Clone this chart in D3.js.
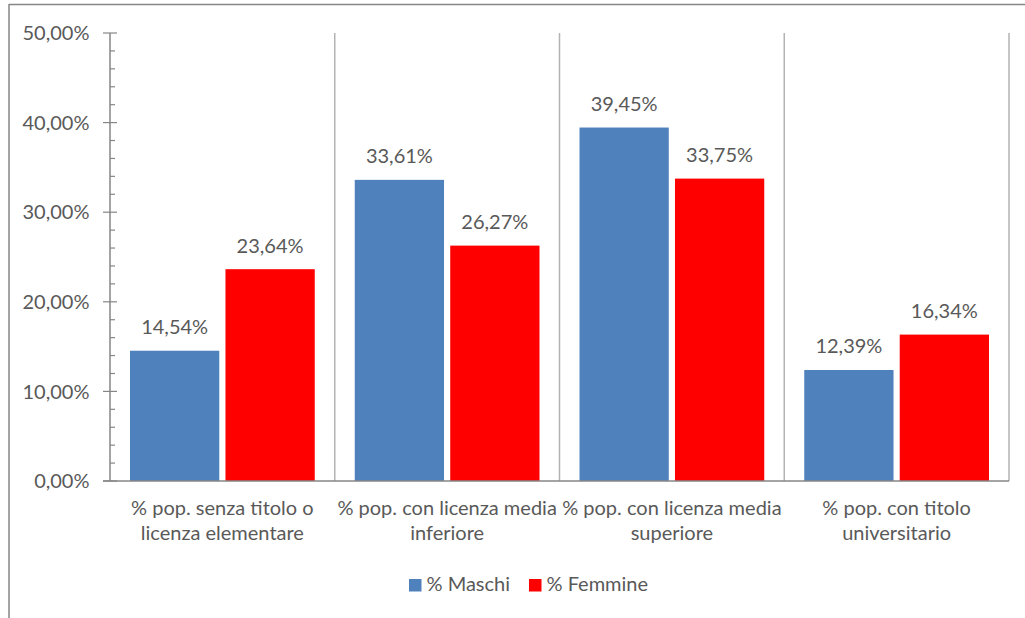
<!DOCTYPE html>
<html>
<head>
<meta charset="utf-8">
<script src="https://cdn.jsdelivr.net/npm/d3@7"></script>
<style>
  html, body { margin: 0; padding: 0; background: #fff; }
  svg { display: block; }
  text { font-family: Lato, "Open Sans", sans-serif; fill: #595959; }
</style>
</head>
<body>
<svg id="chart" width="1025" height="618"></svg>
<script>
// Education level by gender
const categories = [
  ["% pop. senza titolo o", "licenza elementare"],
  ["% pop. con licenza media", "inferiore"],
  ["% pop. con licenza media", "superiore"],
  ["% pop. con titolo", "universitario"]
];
const seriesNames = ["% Maschi", "% Femmine"];
const maschi = [14.54, 33.61, 39.45, 12.39];
const femmine = [23.64, 26.27, 33.75, 16.34];
const yTicks = [0, 10, 20, 30, 40, 50];
const colors = ["#4F81BD", "#FF0000"];

const svg = d3.select("#chart");
const plotL = 110, plotR = 1009, plotT = 33, plotB = 481;
const fs = 20;

const fmt = v => v.toFixed(2).replace(".", ",") + "%";

// outer frame (top and left edges visible)
svg.append("line").attr("x1", 9).attr("x2", 1025).attr("y1", 4.5).attr("y2", 4.5)
  .attr("stroke", "#868686").attr("stroke-width", 1.5);
svg.append("line").attr("x1", 9).attr("x2", 9).attr("y1", 4).attr("y2", 618)
  .attr("stroke", "#868686").attr("stroke-width", 1.5);

const x0 = d3.scaleBand().domain(d3.range(categories.length)).range([plotL, plotR]).paddingInner(0).paddingOuter(0);
const x1 = d3.scaleBand().domain([0, 1]).range([20, x0.bandwidth() - 20]).paddingInner(0.065);
const y = d3.scaleLinear().domain([0, 50]).range([plotB, plotT]);

// vertical category separators
const seps = d3.range(1, categories.length + 1).map(i => plotL + i * x0.bandwidth());
svg.append("g").selectAll("line").data(seps).join("line")
  .attr("x1", d => d).attr("x2", d => d).attr("y1", plotT).attr("y2", plotB)
  .attr("stroke", "#b3b3b3").attr("stroke-width", 1.5);

// bars
const data = categories.map((c, i) => [maschi[i], femmine[i]]);
const groups = svg.append("g").selectAll("g").data(data).join("g")
  .attr("transform", (d, i) => `translate(${x0(i)},0)`);
groups.selectAll("rect").data(d => d).join("rect")
  .attr("x", (d, j) => x1(j)).attr("width", x1.bandwidth())
  .attr("y", d => y(d)).attr("height", d => plotB - y(d))
  .attr("fill", (d, j) => colors[j]);
groups.selectAll("text").data(d => d).join("text")
  .attr("x", (d, j) => x1(j) + x1.bandwidth() / 2)
  .attr("y", d => y(d) - 16.5)
  .attr("text-anchor", "middle").attr("font-size", fs)
  .text(d => fmt(d));

// y axis with major and minor ticks
const yAxis = svg.append("g");
yAxis.append("line").attr("x1", plotL).attr("x2", plotL).attr("y1", plotT).attr("y2", plotB)
  .attr("stroke", "#868686").attr("stroke-width", 1.5);
const minor = d3.range(0, 50.001, 2).filter(v => v % 10 !== 0);
yAxis.selectAll(".minor").data(minor).join("line")
  .attr("x1", plotL).attr("x2", plotL + 5).attr("y1", d => y(d)).attr("y2", d => y(d))
  .attr("stroke", "#868686").attr("stroke-width", 1.2);
yAxis.selectAll(".major").data(yTicks).join("line")
  .attr("x1", plotL - 7).attr("x2", plotL + 7).attr("y1", d => y(d)).attr("y2", d => y(d))
  .attr("stroke", "#868686").attr("stroke-width", 1.2);
yAxis.selectAll("text").data(yTicks).join("text")
  .attr("x", 89.5).attr("y", d => y(d) + 7.2)
  .attr("text-anchor", "end").attr("font-size", fs)
  .text(d => fmt(d));

// x axis line
svg.append("line").attr("x1", plotL - 7).attr("x2", plotR).attr("y1", plotB).attr("y2", plotB)
  .attr("stroke", "#868686").attr("stroke-width", 1.5);

// category labels
const cl = svg.append("g").selectAll("text").data(categories).join("text")
  .attr("text-anchor", "middle").attr("font-size", fs);
cl.each(function(lines, i) {
  const t = d3.select(this);
  lines.forEach((ln, k) => {
    t.append("tspan").attr("x", x0(i) + x0.bandwidth() / 2).attr("y", 515 + k * 25).text(ln);
  });
});

// legend
const legendX = [409, 529];
const lg = svg.append("g").selectAll("g").data(seriesNames).join("g")
  .attr("transform", (d, i) => `translate(${legendX[i]},579)`);
lg.append("rect").attr("width", 12.5).attr("height", 12.5).attr("fill", (d, i) => colors[i]);
lg.append("text").attr("x", 17.5).attr("y", 11.5).attr("font-size", fs).text(d => d);
</script>
</body>
</html>
